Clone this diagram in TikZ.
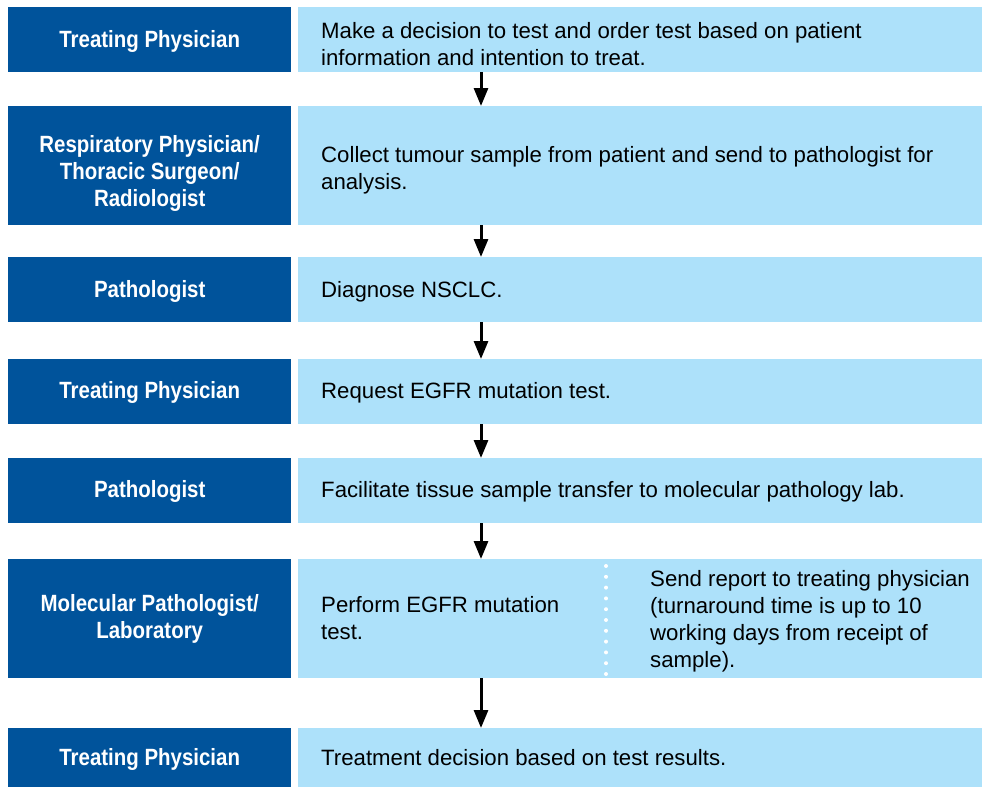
\documentclass[tikz,border=0pt]{standalone}
\usepackage{fontspec}
\setmainfont{Liberation Sans}
\newfontfamily\labelfont{Liberation Sans}[FakeStretch=0.87]
\usetikzlibrary{arrows.meta}
\definecolor{dblue}{RGB}{0,83,155}
\definecolor{lblue}{RGB}{173,225,250}
\begin{document}
\begin{tikzpicture}[x=1pt,y=-1pt,
  role/.style={fill=dblue, minimum width=283pt, anchor=north west, inner sep=0pt},
  task/.style={fill=lblue, anchor=north west, minimum width=684pt, inner sep=0pt},
  roletxt/.style={text=white, font=\labelfont\fontsize{23.5}{27}\selectfont\bfseries, align=center, inner sep=0pt},
  txt/.style={font=\fontsize{22.2}{27}\selectfont, align=left, anchor=west, inner sep=0pt},
  flow/.style={-{Triangle[width=14pt,length=18pt]}, line width=3pt, black}]
\useasboundingbox (0,0) rectangle (982,787);
\coordinate (ax) at (481,0);
\coordinate (tx) at (321,0);
% row 1
\node[role, minimum height=65pt] (l1) at (8,7) {};
\node[task, minimum height=65pt] (r1) at (298,7) {};
\node[roletxt] (lt1) at ([yshift=-2pt]l1.center) {Treating Physician};
\node[txt] (rt1) at ([yshift=-4pt]r1.center -| tx) {Make a decision to test and order test based on patient\\information and intention to treat.};
% row 2
\node[role, minimum height=119pt] (l2) at (8,106) {};
\node[task, minimum height=119pt] (r2) at (298,106) {};
\node[roletxt] (lt2) at ([yshift=-8pt]l2.center) {Respiratory Physician/\\Thoracic Surgeon/\\Radiologist};
\node[txt] (rt2) at ([yshift=-5pt]r2.center -| tx) {Collect tumour sample from patient and send to pathologist for\\analysis.};
% row 3
\node[role, minimum height=65pt] (l3) at (8,257) {};
\node[task, minimum height=65pt] (r3) at (298,257) {};
\node[roletxt] (lt3) at ([yshift=-2pt]l3.center) {Pathologist};
\node[txt] (rt3) at ([yshift=-2pt]r3.center -| tx) {Diagnose NSCLC.};
% row 4
\node[role, minimum height=65pt] (l4) at (8,359) {};
\node[task, minimum height=65pt] (r4) at (298,359) {};
\node[roletxt] (lt4) at ([yshift=-1pt]l4.center) {Treating Physician};
\node[txt] (rt4) at ([yshift=-1pt]r4.center -| tx) {Request EGFR mutation test.};
% row 5
\node[role, minimum height=65pt] (l5) at (8,458) {};
\node[task, minimum height=65pt] (r5) at (298,458) {};
\node[roletxt] (lt5) at ([yshift=-1pt]l5.center) {Pathologist};
\node[txt] (rt5) at ([yshift=-1pt]r5.center -| tx) {Facilitate tissue sample transfer to molecular pathology lab.};
% row 6
\node[role, minimum height=119pt] (l6) at (8,559) {};
\node[task, minimum height=119pt] (r6) at (298,559) {};
\node[roletxt] (lt6) at (l6.center) {Molecular Pathologist/\\Laboratory};
\node[txt] (r6a) at ([yshift=1pt]r6.center -| tx) {Perform EGFR mutation\\test.};
\node[txt] (r6b) at ([yshift=-3pt]r6.center -| 650,0) {Send report to treating physician\\(turnaround time is up to 10\\working days from receipt of\\sample).};
\coordinate (d1) at (606,566);
\coordinate (d2) at (606,678);
\draw[white, line width=4pt, line cap=round, dash pattern=on 0pt off 10.8pt] (d1) -- (d2);
% row 7
\node[role, minimum height=59pt] (l7) at (8,728) {};
\node[task, minimum height=59pt] (r7) at (298,728) {};
\node[roletxt] (lt7) at ([yshift=-2pt]l7.center) {Treating Physician};
\node[txt] (rt7) at (r7.center -| tx) {Treatment decision based on test results.};
% arrows
\draw[flow] (r1.south -| ax) -- (r2.north -| ax);
\draw[flow] (r2.south -| ax) -- (r3.north -| ax);
\draw[flow] (r3.south -| ax) -- (r4.north -| ax);
\draw[flow] (r4.south -| ax) -- (r5.north -| ax);
\draw[flow] (r5.south -| ax) -- (r6.north -| ax);
\draw[flow] (r6.south -| ax) -- (r7.north -| ax);
\end{tikzpicture}
\end{document}
